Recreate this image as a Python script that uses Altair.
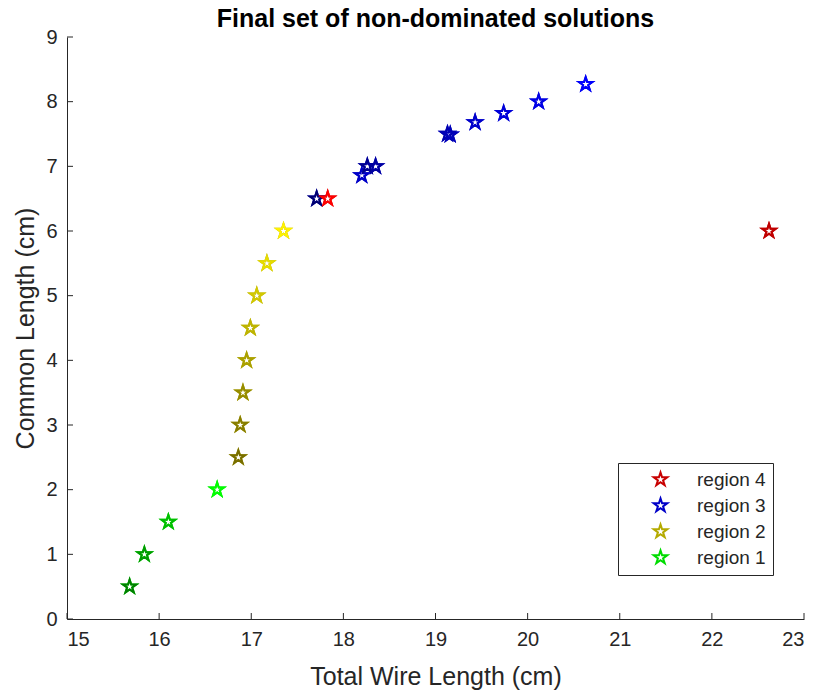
import altair as alt
import pandas as pd

# ---------------- data ----------------
r1_x = [15.68, 15.84, 16.10, 16.63]
r1_y = [0.5, 1.0, 1.5, 2.0]
r1_c = ["#008000", "#009A00", "#00BE00", "#00FF00"]

r2_x = [16.86, 16.88, 16.91, 16.95, 16.99, 17.06, 17.17, 17.35]
r2_y = [2.5, 3.0, 3.5, 4.0, 4.5, 5.0, 5.5, 6.0]
r2_c = ["#786E00", "#877D00", "#968C00", "#AAA000", "#BEB400", "#D2C800", "#E6DC00", "#FFF200"]

r3_x = [17.71, 18.20, 18.26, 18.35, 19.13, 19.16, 19.43, 19.74, 20.12, 20.63]
r3_y = [6.5, 6.86, 7.0, 7.0, 7.5, 7.49, 7.68, 7.82, 8.0, 8.27]
r3_c = ["#000070", "#0000C8", "#000090", "#0000A0", "#0000B0", "#0000B8",
        "#0000CC", "#0000DA", "#0000E8", "#0000FF"]

r4_x = [17.83, 22.62]
r4_y = [6.5, 6.0]
r4_c = ["#FF0000", "#C00000"]

legend_names = ["region 4", "region 3", "region 2", "region 1"]
legend_colors = ["#C80000", "#0000C8", "#B4AA00", "#00DC00"]

x_ticks = [15, 16, 17, 18, 19, 20, 21, 22, 23]
y_ticks = [0, 1, 2, 3, 4, 5, 6, 7, 8, 9]

# ---------------- build table ----------------
rows = []
for name, xs, ys, cs in [("region 1", r1_x, r1_y, r1_c),
                         ("region 2", r2_x, r2_y, r2_c),
                         ("region 3", r3_x, r3_y, r3_c),
                         ("region 4", r4_x, r4_y, r4_c)]:
    for xv, yv, cv in zip(xs, ys, cs):
        rows.append({"wx": xv, "cy": yv, "region": name, "hex": cv})
df = pd.DataFrame(rows)

W, H = 737, 582
FONT = "Liberation Sans"
TXT = "#262626"
SYM = 200
SW = 2
# pentagram outline in the unit box (marker glyph)
STAR = ("M0,-1L0.2245,-0.309L0.9511,-0.309L0.3633,0.118L0.5878,0.809L0,0.382"
        "L-0.5878,0.809L-0.3633,0.118L-0.9511,-0.309L-0.2245,-0.309Z")

xscale = alt.Scale(domain=[15, 23], nice=False, zero=False)
yscale = alt.Scale(domain=[0, 9], nice=False, zero=False)

xaxis = alt.Axis(values=x_ticks, ticks=False, grid=False, title="Total Wire Length (cm)",
                 labelFontSize=20, labelFont=FONT, labelColor=TXT, labelPadding=10,
                 titleFontSize=25, titleFont=FONT, titleColor=TXT, titleFontWeight="normal",
                 titlePadding=15, domainColor=TXT, format="d")
yaxis = alt.Axis(values=y_ticks, ticks=False, grid=False, title="Common Length (cm)",
                 labelFontSize=20, labelFont=FONT, labelColor=TXT, labelPadding=10,
                 titleFontSize=25, titleFont=FONT, titleColor=TXT, titleFontWeight="normal",
                 titlePadding=7, domainColor=TXT, format="d")

base = alt.Chart(df)

legend_layer = base.mark_point(shape=STAR, filled=False, size=SYM, strokeWidth=SW, opacity=1).encode(
    x=alt.X("wx:Q", scale=xscale, axis=xaxis),
    y=alt.Y("cy:Q", scale=yscale, axis=yaxis),
    color=alt.Color("region:N",
                    scale=alt.Scale(domain=legend_names, range=legend_colors),
                    legend=alt.Legend(orient="none", legendX=551, legendY=426, title=None,
                                      strokeColor=TXT, fillColor="white", padding=7,
                                      labelFontSize=19, labelFont=FONT, labelColor=TXT,
                                      symbolType=STAR, symbolSize=SYM, symbolStrokeWidth=SW,
                                      symbolOpacity=1,
                                      symbolOffset=26, labelOffset=27, rowPadding=4)),
)

points = base.mark_point(shape=STAR, filled=False, size=SYM, strokeWidth=SW, opacity=1).encode(
    x=alt.X("wx:Q", scale=xscale),
    y=alt.Y("cy:Q", scale=yscale),
    stroke=alt.Stroke("hex:N", scale=None),
)

xt = alt.Chart(pd.DataFrame({"t": x_ticks})).mark_rule(color=TXT, strokeWidth=1).encode(
    x=alt.X("t:Q", scale=xscale),
    y=alt.value(H),
    y2=alt.value(H - 6),
)
yt = alt.Chart(pd.DataFrame({"t": y_ticks})).mark_rule(color=TXT, strokeWidth=1).encode(
    y=alt.Y("t:Q", scale=yscale),
    x=alt.value(0),
    x2=alt.value(6),
)

chart = alt.layer(legend_layer, points, xt, yt).properties(
    width=W, height=H,
    background="white",
    title=alt.TitleParams("Final set of non-dominated solutions", fontSize=25, fontWeight="bold",
                          font=FONT, color="black", offset=0, dy=5, anchor="middle"),
    padding={"left": 67, "top": 37, "right": 15, "bottom": 75},
    autosize=alt.AutoSizeParams(type="none"),
).configure_view(stroke=None)

chart.save("out.html", embed_options={"renderer": "svg", "actions": False})
